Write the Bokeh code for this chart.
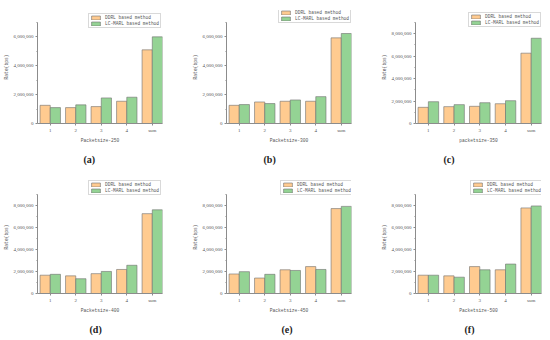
from bokeh.plotting import figure
from bokeh.layouts import column, row
from bokeh.models import (Range1d, FixedTicker, NumeralTickFormatter, Title,
                          Legend, LegendItem)
from bokeh.embed import file_html
from bokeh.resources import INLINE

# ---------------- data (bps) ----------------
categories = ["1", "2", "3", "4", "sum"]

ddrl_250 = [1.26e6, 1.10e6, 1.17e6, 1.54e6, 5.10e6]
lc_250 = [1.10e6, 1.29e6, 1.77e6, 1.82e6, 6.00e6]

ddrl_300 = [1.26e6, 1.49e6, 1.54e6, 1.54e6, 5.93e6]
lc_300 = [1.31e6, 1.38e6, 1.63e6, 1.86e6, 6.23e6]

ddrl_350 = [1.44e6, 1.50e6, 1.53e6, 1.76e6, 6.26e6]
lc_350 = [1.94e6, 1.68e6, 1.85e6, 2.03e6, 7.59e6]

ddrl_400 = [1.66e6, 1.60e6, 1.80e6, 2.18e6, 7.24e6]
lc_400 = [1.74e6, 1.34e6, 2.00e6, 2.56e6, 7.59e6]

ddrl_450 = [1.77e6, 1.40e6, 2.15e6, 2.44e6, 7.70e6]
lc_450 = [1.98e6, 1.74e6, 2.09e6, 2.18e6, 7.90e6]

ddrl_500 = [1.66e6, 1.60e6, 2.44e6, 2.15e6, 7.76e6]
lc_500 = [1.66e6, 1.48e6, 2.15e6, 2.67e6, 7.94e6]

x_labels = ["Packetsize-250", "Packetsize-300", "packetsize-350",
            "Packetsize-400", "Packetsize-450", "Packetsize-500"]
captions = ["(a)", "(b)", "(c)", "(d)", "(e)", "(f)"]
series_names = ["DDRL based method", "LC-MARL based method"]
y_max = [7e6, 7e6, 9e6, 9e6, 9e6, 9e6]

ddrl_all = [ddrl_250, ddrl_300, ddrl_350, ddrl_400, ddrl_450, ddrl_500]
lc_all = [lc_250, lc_300, lc_350, lc_400, lc_450, lc_500]

# ---------------- layout / style ----------------
ORANGE = "#FFCB90"
GREEN = "#94D394"
EDGE = "#6e6e6e"
AXIS = "#8c8c8c"
TXT = "#555555"
MONO = "Liberation Mono"
SERIF = "Liberation Serif"

col_w = [186, 178, 186]
col_l = [37, 40, 51]
col_r = [24, 13, 9]
row_h = [170, 170]
row_t = [10, 10]          # frame top (legend room)
row_b = [46, 45]
axis_gap = [12, 14]       # distance from frame top to top of y axis line
legend_loc = [(51, 95), (52, 100), (53, 96), (51, 98), (54, 98), (55, 98)]
caption_off = [46, 37, 28, 52, 55, 49]
caption_standoff = [12, 12]

xpos = [i + 1 for i in range(len(categories))]

figs = []
for k in range(6):
    r, c = divmod(k, 3)
    frame_h = row_h[r] - row_t[r] - row_b[r]
    axis_h = frame_h - axis_gap[r]
    y_end = y_max[k] * frame_h / axis_h
    p = figure(width=col_w[c], height=row_h[r], output_backend="svg",
               toolbar_location=None, x_range=Range1d(0.5, 5.4),
               y_range=Range1d(0, y_end),
               min_border_left=col_l[c], min_border_right=col_r[c],
               min_border_top=row_t[r], min_border_bottom=row_b[r])
    p.outline_line_color = None
    p.xgrid.visible = False
    p.ygrid.visible = False
    p.background_fill_color = "white"
    p.border_fill_color = "white"

    r1 = p.vbar(x=[x - 0.2 for x in xpos], top=ddrl_all[k], width=0.4,
                fill_color=ORANGE, line_color=EDGE, line_width=0.6)
    r2 = p.vbar(x=[x + 0.2 for x in xpos], top=lc_all[k], width=0.4,
                fill_color=GREEN, line_color=EDGE, line_width=0.6)

    # x axis
    xa = p.xaxis[0]
    xa.ticker = FixedTicker(ticks=xpos, minor_ticks=[])
    xa.major_label_overrides = {x: categories[i] for i, x in enumerate(xpos)}
    xa.axis_label = x_labels[k]
    # y axis
    top = y_max[k]
    majors = [v * 2e6 for v in range(int(top // 2e6) + 1)]
    minors = [v * 1e6 for v in range(1, int(top // 1e6) + 1) if v % 2 == 1]
    ya = p.yaxis[0]
    ya.ticker = FixedTicker(ticks=majors, minor_ticks=minors)
    ya.formatter = NumeralTickFormatter(format="0,0")
    ya.axis_label = "Rate(bps)"
    ya.bounds = (0, top)

    for ax in (xa, ya):
        ax.axis_line_color = AXIS
        ax.axis_line_width = 1
        ax.major_tick_line_color = AXIS
        ax.minor_tick_line_color = AXIS
        ax.major_tick_out = 2
        ax.major_tick_in = 0
        ax.minor_tick_out = 1
        ax.minor_tick_in = 0
        ax.major_label_standoff = 2
        ax.axis_label_standoff = 2
        ax.major_label_text_font = SERIF
        ax.major_label_text_font_size = "5px"
        ax.major_label_text_color = TXT
        ax.axis_label_text_font = MONO
        ax.axis_label_text_font_size = "4.6px"
        ax.axis_label_text_font_style = "normal"
        ax.axis_label_text_color = TXT

    leg = Legend(items=[LegendItem(label=series_names[0], renderers=[r1]),
                        LegendItem(label=series_names[1], renderers=[r2])],
                 location=legend_loc[k], orientation="vertical",
                 padding=1, spacing=1, margin=0,
                 glyph_width=11, glyph_height=5, label_height=5,
                 label_width=10, label_standoff=4,
                 label_text_font=MONO, label_text_font_size="4.5px",
                 label_text_color=TXT,
                 border_line_color="#b4b4b4", border_line_width=0.7,
                 background_fill_color="white", background_fill_alpha=1)
    p.add_layout(leg, "center")

    p.add_layout(Title(text=captions[k], align="left", offset=caption_off[k],
                       standoff=caption_standoff[r], text_font=SERIF,
                       text_font_size="10px", text_font_style="bold",
                       text_color="#222222"),
                 "below")
    figs.append(p)

layout = column(row(*figs[:3]), row(*figs[3:]))
open("out.html", "w").write(file_html(layout, INLINE))
